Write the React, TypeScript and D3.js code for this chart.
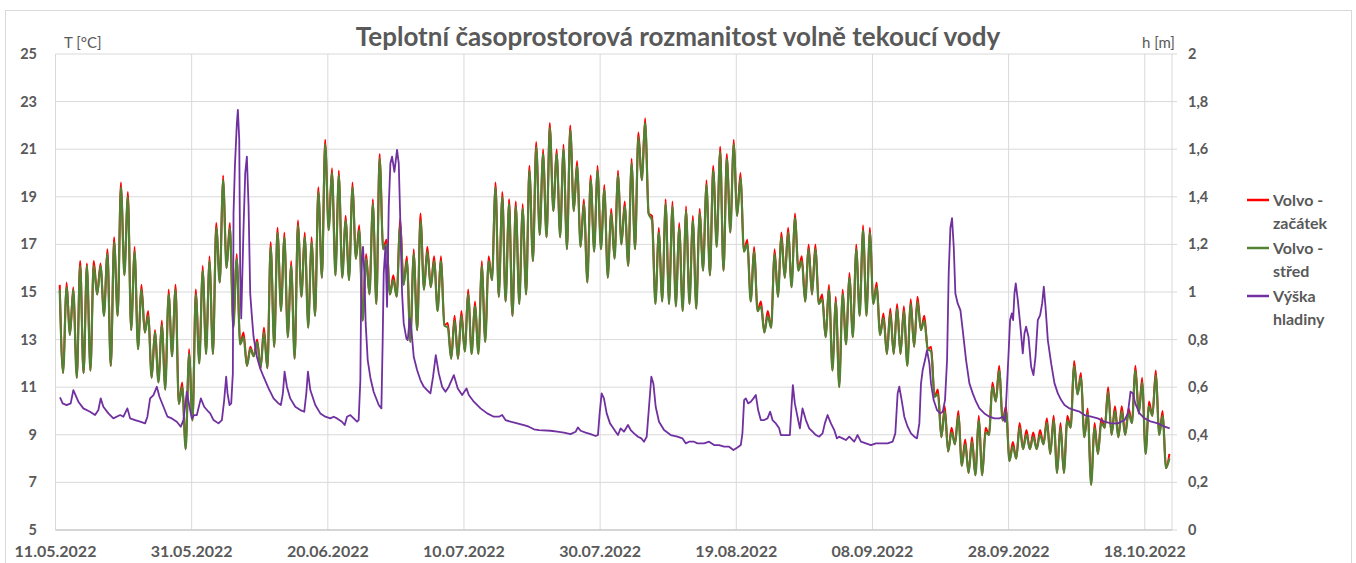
import React from 'react'
import * as d3 from 'd3'

// day 0 = 11.05.2022
const dateTicks = ['2022-05-11', '2022-05-31', '2022-06-20', '2022-07-10', '2022-07-30', '2022-08-19', '2022-09-08', '2022-09-28', '2022-10-18']
const tempTicks = [5, 7, 9, 11, 13, 15, 17, 19, 21, 23, 25]
const levelTicks = [0, 0.2, 0.4, 0.6, 0.8, 1, 1.2, 1.4, 1.6, 1.8, 2]

// nightly minimum per day (°C)
const dailyMin = [
  null, 11.6, 13.2, 11.4, 11.6, 11.7, 14.9, 14.0, 11.9, 14.0,
  15.7, 13.4, 12.6, 13.3, 11.4, 11.2, 10.9, 12.3, 10.3, 8.4,
  9.6, 12.0, 12.4, 12.4, 15.4, 16.0, 13.5, 12.8, 11.9, 12.3,
  11.8, 11.8, 12.7, 14.2, 13.1, 12.2, 14.8, 13.5, 14.0, 15.6,
  17.6, 15.7, 15.6, 15.5, 16.4, 13.8, 14.9, 14.5, 16.8, 14.9,
  14.8, 15.3, 12.9, 13.4, 15.1, 15.2, 14.2, 13.6, 12.2, 12.2,
  12.5, 12.4, 12.4, 12.9, 15.5, 14.8, 14.6, 14.0, 14.5, 14.9,
  16.3, 17.4, 17.3, 18.4, 17.3, 16.8, 18.4, 16.9, 15.4, 16.7,
  16.8, 15.6, 16.4, 17.0, 16.1, 16.8, 19.7, 18.3, 14.5, 14.6,
  14.5, 14.4, 14.2, 14.5, 14.3, 15.9, 15.7, 16.9, 15.9, 17.5,
  18.2, 16.7, 14.6, 14.2, 13.3, 13.5, 14.8, 15.6, 15.2, 15.9,
  14.6, 14.9, 14.5, 13.1, 11.7, 11.0, 12.8, 13.1, 14.0, 14.0,
  14.5, 13.2, 12.4, 12.4, 12.4, 11.9, 12.7, 13.4, 12.6, 10.6,
  8.9, 8.3, 8.6, 7.7, 7.4, 7.3, 7.3, 9.0, 10.4, 9.6,
  7.9, 8.0, 8.4, 8.4, 8.4, 8.6, 8.2, 7.4, 7.4, 9.3,
  10.7, 8.9, 6.9, 8.2, 9.3, 9.0, 8.9, 9.0, 9.5, 9.9,
  8.2, 9.8, 9.0, 7.6,
]

// afternoon maximum, Volvo - střed
const stredMax = [
  15.1, 15.2, 15.1, 16.1, 16.1, 16.1, 16.1, 16.6, 17.1, 19.4,
  19.0, 16.7, 15.1, 14.0, 13.3, 13.6, 14.9, 15.1, 11.0, 12.4,
  14.9, 15.9, 16.3, 17.7, 19.7, 17.7, 16.4, 13.1, 12.6, 12.9,
  13.3, 16.9, 17.5, 17.3, 16.1, 17.8, 17.3, 17.1, 19.2, 21.2,
  20.0, 19.9, 18.0, 19.4, 17.6, 16.4, 18.7, 20.6, 17.0, 15.5,
  17.8, 16.3, 16.6, 18.0, 16.7, 16.3, 16.3, 13.5, 13.8, 14.0,
  14.9, 14.4, 16.1, 16.3, 19.4, 19.0, 18.7, 18.6, 18.5, 20.1,
  21.1, 20.8, 21.9, 20.8, 21.0, 21.8, 20.3, 18.7, 19.7, 20.1,
  19.3, 18.3, 19.9, 18.6, 20.4, 21.5, 22.1, 18.0, 17.5, 18.7,
  18.6, 17.7, 18.4, 18.0, 18.3, 19.5, 20.1, 20.9, 20.6, 21.2,
  19.8, 17.0, 16.7, 14.4, 14.0, 16.6, 17.3, 17.5, 18.1, 16.3,
  16.8, 16.8, 14.7, 15.1, 14.6, 14.9, 15.6, 16.8, 17.6, 17.5,
  15.2, 13.9, 14.1, 14.3, 14.2, 14.5, 14.6, 13.8, 12.5, 10.7,
  10.0, 9.1, 9.8, 8.6, 8.7, 9.6, 9.1, 11.0, 11.7, 10.0,
  8.5, 9.3, 9.0, 8.9, 9.0, 9.5, 9.6, 9.3, 9.6, 11.9,
  11.4, 9.9, 9.3, 9.5, 10.8, 10.0, 10.0, 9.9, 11.7, 11.2,
  10.2, 11.5, 9.8, 8.0,
]

// afternoon maximum, Volvo - začátek
const zacatekMax = [
  15.3, 15.4, 15.2, 16.3, 16.2, 16.3, 16.2, 16.8, 17.3, 19.6,
  19.2, 16.9, 15.3, 14.2, 13.4, 13.8, 15.1, 15.3, 11.2, 12.6,
  15.1, 16.1, 16.5, 17.9, 19.9, 17.9, 16.6, 13.3, 12.7, 13.0,
  13.5, 17.1, 17.7, 17.5, 16.3, 18.0, 17.5, 17.3, 19.4, 21.4,
  20.2, 20.1, 18.2, 19.6, 17.8, 16.6, 18.9, 20.8, 17.2, 15.7,
  18.1, 16.5, 16.8, 18.3, 16.9, 16.5, 16.5, 13.7, 14.0, 14.2,
  15.1, 14.6, 16.3, 16.5, 19.6, 19.2, 18.9, 18.8, 18.7, 20.3,
  21.3, 21.0, 22.1, 21.0, 21.2, 22.0, 20.5, 18.9, 19.9, 20.3,
  19.5, 18.5, 20.1, 18.8, 20.6, 21.7, 22.3, 18.2, 17.7, 18.9,
  18.8, 17.9, 18.6, 18.2, 18.5, 19.7, 20.3, 21.1, 20.8, 21.4,
  20.0, 17.2, 16.9, 14.6, 14.2, 16.8, 17.5, 17.7, 18.3, 16.5,
  17.0, 17.0, 14.9, 15.3, 14.8, 15.1, 15.8, 17.0, 17.8, 17.7,
  15.4, 14.1, 14.3, 14.5, 14.4, 14.7, 14.8, 14.0, 12.7, 10.9,
  10.2, 9.3, 10.0, 8.8, 8.9, 9.8, 9.3, 11.2, 11.9, 10.2,
  8.7, 9.5, 9.2, 9.1, 9.2, 9.7, 9.8, 9.5, 9.8, 12.1,
  11.6, 10.1, 9.5, 9.7, 11.0, 10.2, 10.2, 10.1, 11.9, 11.4,
  10.4, 11.7, 10.0, 8.2,
]

// Výška hladiny: [day, h in m]
const hladina = [
  [0.66, 0.557], [1.05, 0.532], [1.64, 0.525], [2.23, 0.532], [2.62, 0.588], [3.36, 0.539], [4.09, 0.511],
  [5.07, 0.497], [5.81, 0.483], [6.3, 0.504], [6.64, 0.553], [7.03, 0.518], [7.77, 0.49], [8.5, 0.469],
  [9.49, 0.483], [9.98, 0.476], [10.56, 0.511], [10.96, 0.469], [11.69, 0.462], [12.43, 0.455], [13.16, 0.448],
  [13.5, 0.476], [13.9, 0.553], [14.39, 0.567], [14.88, 0.602], [15.27, 0.56], [15.86, 0.518], [16.45, 0.476],
  [17.08, 0.469], [17.82, 0.455], [18.4, 0.434], [18.8, 0.462], [19.29, 0.581], [19.68, 0.518], [20.02, 0.469],
  [20.37, 0.483], [20.76, 0.483], [21.35, 0.553], [21.84, 0.518], [22.47, 0.497], [22.72, 0.49], [23.21, 0.462],
  [23.94, 0.448], [24.44, 0.462], [24.78, 0.546], [25.07, 0.644], [25.27, 0.574], [25.56, 0.525], [25.81, 0.532],
  [26.05, 0.658], [26.15, 1.33], [26.35, 1.527], [26.64, 1.709], [26.79, 1.765], [26.99, 1.64], [27.13, 1.08],
  [27.28, 0.889], [27.62, 1.27], [27.87, 1.5], [28.11, 1.569], [28.36, 1.36], [28.6, 0.994], [28.85, 0.896],
  [29.09, 0.812], [29.58, 0.728], [30.07, 0.679], [30.56, 0.644], [31.3, 0.595], [32.03, 0.553], [32.75, 0.532],
  [33.1, 0.525], [33.4, 0.574], [33.65, 0.665], [33.99, 0.602], [34.48, 0.553], [35.22, 0.518], [35.96, 0.504],
  [36.54, 0.497], [36.84, 0.574], [37.08, 0.665], [37.43, 0.588], [38.16, 0.525], [38.9, 0.49], [39.63, 0.476],
  [40.37, 0.469], [40.86, 0.476], [41.35, 0.469], [42.08, 0.455], [42.48, 0.441], [42.82, 0.476], [43.31, 0.483],
  [43.8, 0.469], [44.29, 0.455], [44.53, 0.462], [44.78, 0.63], [44.88, 0.938], [45.02, 1.148], [45.17, 1.19],
  [45.37, 1.078], [45.56, 0.868], [45.86, 0.714], [46.25, 0.64], [46.74, 0.58], [47.48, 0.525], [47.87, 0.511],
  [48.06, 0.798], [48.21, 1.078], [48.46, 1.19], [48.7, 0.938], [48.95, 1.358], [49.19, 1.54], [49.44, 1.569],
  [49.78, 1.505], [50.17, 1.597], [50.42, 1.54], [50.66, 1.288], [50.91, 0.994], [51.15, 0.868], [51.54, 0.805],
  [51.74, 0.798], [52.03, 0.889], [52.28, 0.84], [52.62, 0.728], [53.11, 0.672], [53.6, 0.63], [54.09, 0.602],
  [54.58, 0.588], [55.07, 0.574], [55.46, 0.644], [55.86, 0.735], [56.3, 0.658], [56.79, 0.602], [57.28, 0.581],
  [57.77, 0.602], [58.51, 0.651], [59.09, 0.595], [59.73, 0.567], [60.37, 0.595], [60.71, 0.567], [61.45, 0.539],
  [62.43, 0.511], [63.41, 0.49], [64.39, 0.476], [65.13, 0.476], [65.61, 0.483], [66.1, 0.462], [66.84, 0.455],
  [67.82, 0.448], [68.8, 0.441], [69.53, 0.434], [70.27, 0.423], [71.0, 0.42], [72.72, 0.417], [73.7, 0.413],
  [74.68, 0.409], [75.66, 0.403], [76.4, 0.413], [76.74, 0.431], [77.13, 0.417], [77.87, 0.409], [78.6, 0.403],
  [79.34, 0.395], [79.68, 0.399], [79.93, 0.49], [80.22, 0.574], [80.56, 0.553], [80.96, 0.49], [81.45, 0.448],
  [81.79, 0.434], [82.28, 0.413], [82.62, 0.399], [83.01, 0.427], [83.5, 0.413], [84.09, 0.441], [84.49, 0.42],
  [84.98, 0.406], [85.56, 0.392], [86.05, 0.385], [86.45, 0.371], [86.84, 0.392], [87.18, 0.518], [87.52, 0.644],
  [87.82, 0.616], [88.16, 0.518], [88.65, 0.455], [89.39, 0.42], [90.37, 0.399], [91.35, 0.392], [92.08, 0.385],
  [92.57, 0.364], [93.06, 0.371], [93.8, 0.371], [94.29, 0.364], [95.27, 0.364], [96.0, 0.371], [96.74, 0.357],
  [97.47, 0.357], [98.21, 0.35], [98.94, 0.35], [99.58, 0.336], [100.17, 0.347], [100.66, 0.357], [100.9, 0.406],
  [101.15, 0.546], [101.4, 0.553], [101.74, 0.532], [102.13, 0.539], [102.52, 0.553], [102.87, 0.567], [103.21, 0.504],
  [103.6, 0.462], [104.09, 0.462], [104.58, 0.469], [104.98, 0.497], [105.32, 0.462], [105.81, 0.448], [106.3, 0.427],
  [106.54, 0.399], [107.03, 0.399], [107.52, 0.399], [107.87, 0.399], [108.11, 0.518], [108.31, 0.609], [108.6, 0.532],
  [108.99, 0.476], [109.34, 0.427], [109.73, 0.511], [110.22, 0.462], [110.71, 0.427], [111.2, 0.413], [111.69, 0.399],
  [112.18, 0.392], [112.67, 0.406], [113.01, 0.448], [113.41, 0.483], [113.9, 0.448], [114.39, 0.42], [114.78, 0.385],
  [115.12, 0.392], [115.61, 0.385], [116.1, 0.378], [116.59, 0.392], [117.32, 0.371], [117.57, 0.385], [117.8, 0.399],
  [118.31, 0.371], [119.04, 0.364], [119.78, 0.357], [120.51, 0.364], [121.25, 0.364], [122.23, 0.364], [122.96, 0.371],
  [123.36, 0.406], [123.7, 0.574], [123.94, 0.602], [124.29, 0.546], [124.68, 0.476], [125.17, 0.434], [125.66, 0.406],
  [126.15, 0.392], [126.54, 0.385], [126.89, 0.448], [127.13, 0.616], [127.38, 0.672], [127.72, 0.714], [128.01, 0.756],
  [128.36, 0.7], [128.6, 0.616], [128.99, 0.546], [129.48, 0.504], [129.97, 0.49], [130.32, 0.497], [130.66, 0.546],
  [130.96, 0.714], [131.2, 1.078], [131.45, 1.27], [131.69, 1.31], [131.94, 1.19], [132.18, 0.994], [132.52, 0.952],
  [132.92, 0.924], [133.26, 0.84], [133.75, 0.714], [134.24, 0.616], [134.73, 0.574], [135.22, 0.539], [135.71, 0.511],
  [136.44, 0.49], [137.18, 0.476], [137.91, 0.469], [138.65, 0.469], [139.14, 0.476], [139.48, 0.455], [139.73, 0.588],
  [139.97, 0.728], [140.22, 0.882], [140.47, 0.91], [140.66, 0.882], [140.86, 0.994], [141.05, 1.036], [141.35, 0.966],
  [141.69, 0.868], [142.08, 0.742], [142.33, 0.826], [142.57, 0.854], [142.92, 0.812], [143.31, 0.686], [143.65, 0.651],
  [143.95, 0.728], [144.29, 0.882], [144.63, 0.903], [144.93, 0.952], [145.17, 1.022], [145.42, 0.938], [145.76, 0.798],
  [146.25, 0.7], [146.74, 0.616], [147.23, 0.574], [147.72, 0.546], [148.21, 0.525], [148.95, 0.511], [149.68, 0.504],
  [150.42, 0.497], [151.15, 0.483], [152.13, 0.476], [153.1, 0.469], [154.08, 0.455], [155.06, 0.448], [156.04, 0.448],
  [157.03, 0.462], [157.52, 0.49], [157.91, 0.581], [158.26, 0.574], [158.6, 0.532], [159.24, 0.49], [159.97, 0.469],
  [160.96, 0.455], [161.94, 0.448], [162.92, 0.434], [163.66, 0.427],
]

const START = Date.UTC(2022, 4, 11)
const END = Date.UTC(2022, 9, 22)
const DAY = 86400000
const toDate = (d) => new Date(START + d * DAY)

const width = 1356
const height = 563
const left = 55.5
const right = 1172
const top = 54
const bottom = 530

const font = 'Lato, "Open Sans", sans-serif'
const grey = '#595959'
const gridColor = '#d9d9d9'

const comma = d3.formatLocale({ decimal: ',', thousands: ' ', grouping: [3], currency: ['', ''] }).format('~g')
const dateFmt = d3.utcFormat('%d.%m.%Y')

// min in the early morning, max in the afternoon
const dayPoints = (mins, maxs) => {
  const pts = []
  maxs.forEach((mx, i) => {
    if (mins[i] != null) pts.push([i + 0.12, mins[i]])
    pts.push([i + 0.62, mx])
  })
  return pts
}

const series = [
  { name: ['Volvo -', 'začátek'], color: '#ff0000', width: 2 },
  { name: ['Volvo -', 'střed'], color: '#548235', width: 2.2 },
  { name: ['Výška', 'hladiny'], color: '#7030a0', width: 1.8 },
]

const App = () => {
  const x = d3.scaleUtc().domain([new Date(START), new Date(END)]).range([left, right])
  const yT = d3.scaleLinear().domain([5, 25]).range([bottom, top])
  const yH = d3.scaleLinear().domain([0, 2]).range([bottom, top])

  const tempLine = d3.line()
    .x((p) => x(toDate(p[0])))
    .y((p) => yT(p[1]))
    .curve(d3.curveMonotoneX)
  const levelLine = d3.line()
    .x((p) => x(toDate(p[0])))
    .y((p) => yH(p[1]))

  const ticks = dateTicks.map((s) => new Date(s + 'T00:00:00Z'))

  return (
    <svg width={width} height={height} style={{ position: 'absolute', left: 0, top: 0, background: '#fff' }} fontFamily={font}>
      <rect x={5.5} y={10.5} width={1346} height={560} fill="#fff" stroke={gridColor} />

      <text x={678} y={46} textAnchor="middle" fontSize={26} fontWeight="bold" fill={grey}>
        Teplotní časoprostorová rozmanitost volně tekoucí vody
      </text>

      {/* grid */}
      {tempTicks.map((t) => (
        <line key={'h' + t} x1={left} x2={right} y1={yT(t)} y2={yT(t)} stroke={gridColor} />
      ))}
      {ticks.map((d, i) => (
        <line key={'v' + i} x1={x(d)} x2={x(d)} y1={top} y2={bottom} stroke={gridColor} />
      ))}
      <line x1={right} x2={right} y1={top} y2={bottom} stroke={gridColor} />
      <line x1={left} x2={right} y1={bottom} y2={bottom} stroke="#bfbfbf" />

      {/* left axis */}
      {tempTicks.map((t) => (
        <text key={'lt' + t} x={37} y={yT(t)} dy="0.35em" textAnchor="end" fontSize={14.5} fontWeight="bold" fill={grey}>
          {t}
        </text>
      ))}
      <text x={64} y={48} fontSize={15} fill={grey}>T [°C]</text>

      {/* right axis */}
      {levelTicks.map((t) => (
        <g key={'rt' + t}>
          <line x1={right} x2={right + 5} y1={yH(t)} y2={yH(t)} stroke={gridColor} />
          <text x={1188} y={yH(t)} dy="0.35em" fontSize={14.5} fontWeight="bold" fill={grey}>
            {comma(t)}
          </text>
        </g>
      ))}
      <text x={1142} y={48} fontSize={15} fill={grey}>h [m]</text>

      {/* date axis */}
      {ticks.map((d, i) => (
        <text key={'dt' + i} x={x(d)} y={557} textAnchor="middle" fontSize={16} fontWeight="bold" fill={grey}>
          {dateFmt(d)}
        </text>
      ))}

      {/* data */}
      <path d={tempLine(dayPoints(dailyMin, zacatekMax))} fill="none" stroke={series[0].color} strokeWidth={series[0].width} strokeLinejoin="round" />
      <path d={tempLine(dayPoints(dailyMin, stredMax))} fill="none" stroke={series[1].color} strokeWidth={series[1].width} strokeLinejoin="round" />
      <path d={levelLine(hladina)} fill="none" stroke={series[2].color} strokeWidth={series[2].width} strokeLinejoin="round" />

      {/* legend */}
      {series.map((s, i) => (
        <g key={'lg' + i} transform={`translate(1247, ${200 + i * 48})`}>
          <line x1={0} x2={22} y1={0} y2={0} stroke={s.color} strokeWidth={2.5} />
          <text x={26} y={0} dy="0.35em" fontSize={16} fontWeight="bold" fill={grey}>{s.name[0]}</text>
          <text x={26} y={23} dy="0.35em" fontSize={16} fontWeight="bold" fill={grey}>{s.name[1]}</text>
        </g>
      ))}
    </svg>
  )
}

export default App
